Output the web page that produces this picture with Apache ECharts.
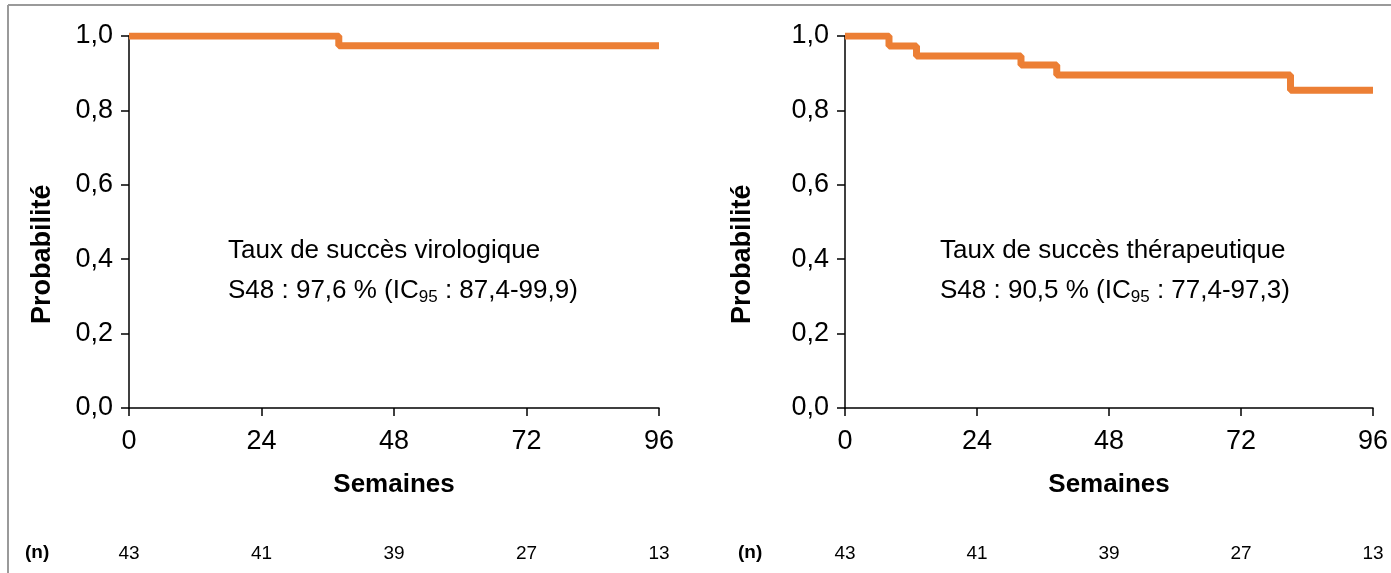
<!DOCTYPE html>
<html>
<head>
<meta charset="utf-8">
<script src="https://cdn.jsdelivr.net/npm/echarts@6/dist/echarts.min.js"></script>
<style>
  html, body { margin: 0; padding: 0; background: #fff; }
  #chart { width: 1391px; height: 573px; }
</style>
</head>
<body>
<div id="chart"></div>
<script>
// semaines / probabilité (Kaplan-Meier)
const viroWeeks = [0, 38, 96]
const viroProb = [1.0, 0.974, 0.974]
const theraWeeks = [0, 8, 13, 32, 38.5, 81, 96]
const theraProb = [1.0, 0.973, 0.946, 0.922, 0.895, 0.854, 0.854]

const weekTicks = [0, 24, 48, 72, 96]
const viroAtRisk = [43, 41, 39, 27, 13]
const theraAtRisk = [43, 41, 39, 27, 13]

const viroNote = ['Taux de succès virologique', 'S48 : 97,6 % (IC', '95', ' : 87,4-99,9)']
const theraNote = ['Taux de succès thérapeutique', 'S48 : 90,5 % (IC', '95', ' : 77,4-97,3)']

const orange = '#EC7F35'
const font = 'Liberation Sans, Arial, Helvetica, sans-serif'

const pairs = (xs, ys) => xs.map((x, i) => [x, ys[i]])

function xAxisMain(gridIndex) {
  return {
    type: 'value', gridIndex, min: 0, max: 96, interval: 24,
    name: 'Semaines', nameLocation: 'middle', nameGap: 64,
    nameTextStyle: { fontFamily: font, fontSize: 26, fontWeight: 'bold', color: '#000' },
    axisLine: { show: true, onZero: false, lineStyle: { color: '#000', width: 1.5 } },
    axisTick: { show: true, length: 8, lineStyle: { color: '#000', width: 1.5 } },
    axisLabel: { fontFamily: font, fontSize: 27, color: '#000', margin: 20 },
    splitLine: { show: false }
  }
}

// axe caché pour la ligne des effectifs (n)
function xAxisRisk(gridIndex, counts) {
  return {
    type: 'value', gridIndex, min: 0, max: 96, interval: 24,
    position: 'bottom', offset: 136,
    axisLine: { show: false }, axisTick: { show: false }, splitLine: { show: false },
    axisLabel: {
      fontFamily: font, fontSize: 19, color: '#000', margin: 0,
      formatter: (v) => String(counts[weekTicks.indexOf(v)])
    }
  }
}

function yAxis(gridIndex) {
  return {
    type: 'value', gridIndex, min: 0, max: 1, interval: 0.2,
    axisLine: { show: true, lineStyle: { color: '#000', width: 1.5 } },
    axisTick: { show: true, length: 8, lineStyle: { color: '#000', width: 1.5 } },
    axisLabel: {
      fontFamily: font, fontSize: 27, color: '#000', margin: 16,
      formatter: (v) => v.toFixed(1).replace('.', ',')
    },
    splitLine: { show: false }
  }
}

function note(lines, left, top) {
  return {
    type: 'text', left, top,
    style: {
      text: '{a|' + lines[0] + '}\n{a|' + lines[1] + '}{s|' + lines[2] + '}{a|' + lines[3] + '}',
      rich: {
        a: { fontFamily: font, fontSize: 26, color: '#000', lineHeight: 40 },
        s: { fontFamily: font, fontSize: 17, color: '#000', lineHeight: 40, padding: [12, 0, 0, 0] }
      }
    }
  }
}

function sideText(text, left, top, size) {
  return {
    type: 'text', left, top,
    style: { text, fontFamily: font, fontSize: size, fontWeight: 'bold', fill: '#000' }
  }
}

function yName(x) {
  return {
    type: 'text', x, y: 324, rotation: Math.PI / 2,
    style: { text: 'Probabilité', fontFamily: font, fontSize: 27, fontWeight: 'bold', fill: '#000' }
  }
}

const chart = echarts.init(document.getElementById('chart'))
chart.setOption({
  animation: false,
  backgroundColor: '#fff',
  grid: [
    { left: 129, right: 732, top: 36, bottom: 165 },
    { left: 845, right: 17, top: 36, bottom: 165 }
  ],
  xAxis: [xAxisMain(0), xAxisMain(1), xAxisRisk(0, viroAtRisk), xAxisRisk(1, theraAtRisk)],
  yAxis: [yAxis(0), yAxis(1)],
  series: [
    {
      type: 'line', xAxisIndex: 0, yAxisIndex: 0, step: 'end', symbol: 'none',
      lineStyle: { color: orange, width: 7 }, data: pairs(viroWeeks, viroProb)
    },
    {
      type: 'line', xAxisIndex: 1, yAxisIndex: 1, step: 'end', symbol: 'none',
      lineStyle: { color: orange, width: 7 }, data: pairs(theraWeeks, theraProb)
    }
  ],
  graphic: [
    // cadre gris (haut et gauche)
    { type: 'line', shape: { x1: 8, y1: 5, x2: 1391, y2: 5 }, style: { stroke: '#9a9a9a', lineWidth: 2 } },
    { type: 'line', shape: { x1: 8, y1: 5, x2: 8, y2: 573 }, style: { stroke: '#9a9a9a', lineWidth: 2 } },
    note(viroNote, 228, 238),
    note(theraNote, 940, 238),
    yName(29),
    yName(729),
    sideText('(n)', 25, 543, 19),
    sideText('(n)', 738, 543, 19)
  ]
})
</script>
</body>
</html>
